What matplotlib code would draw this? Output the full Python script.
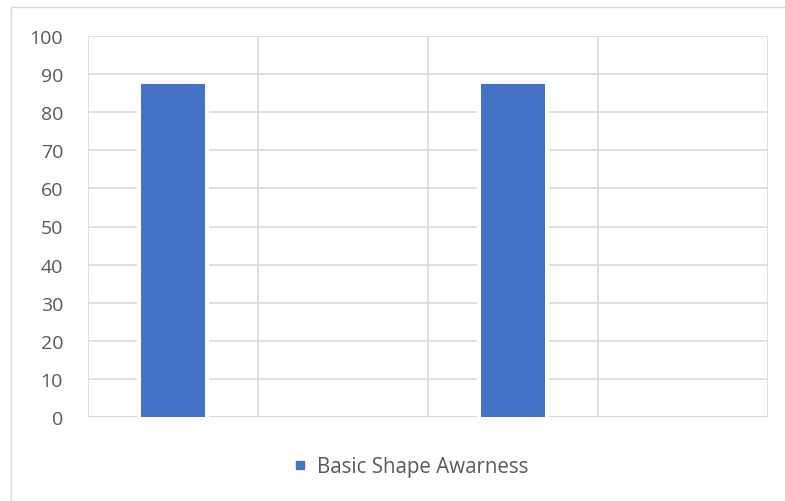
import numpy as np
import matplotlib
matplotlib.use('Agg')
from matplotlib import pyplot as plt
from matplotlib.lines import Line2D
from matplotlib.patches import Rectangle

# chart data
categories = ['', '', '', '']
scores = [87.4, np.nan, 87.4, np.nan]
series_name = 'Basic Shape Awarness'
y_ticks = list(range(0, 101, 10))

BAR_COLOR = '#4472C4'
GRID_COLOR = '#D9D9D9'
TEXT_COLOR = '#595959'

plt.rcParams['font.family'] = ['Open Sans', 'DejaVu Sans']

fig = plt.figure(figsize=(7.85, 5.02), dpi=100)
ax = fig.add_axes([88 / 785, 1 - 418 / 502, 680 / 785, 381 / 502])

# outer chart border (only top and left visible)
fig.add_artist(Rectangle((11 / 785, -0.05), 1.1, 1 - 8 / 502 + 0.05,
                         transform=fig.transFigure, fill=False,
                         edgecolor=GRID_COLOR, linewidth=1.0))

x = np.arange(len(categories))
# white backing makes the gap around the bars in the grid
ax.bar(x, scores, width=0.42, color='white', zorder=3)
ax.bar(x, scores, width=0.376, color=BAR_COLOR, zorder=4)

ax.set_xlim(-0.5, len(categories) - 0.5)
ax.set_ylim(0, 100)
ax.set_yticks(y_ticks)
ax.set_xticks(x)
ax.set_xticklabels(categories)
ax.set_xticks(np.arange(-0.5, len(categories)), minor=True)

ax.grid(axis='y', which='major', color=GRID_COLOR, linewidth=1.2, zorder=1)
ax.grid(axis='x', which='minor', color=GRID_COLOR, linewidth=1.2, zorder=1)
ax.set_axisbelow(True)
for side in ['top', 'right', 'left', 'bottom']:
    ax.spines[side].set_visible(False)
ax.axhline(0, color=GRID_COLOR, linewidth=1.2, zorder=2)

ax.tick_params(axis='both', which='both', length=0)
ax.tick_params(axis='y', labelsize=14, labelcolor=TEXT_COLOR, pad=18)

handle = Line2D([], [], linestyle='none', marker='s', markersize=6,
                color=BAR_COLOR)
fig.legend([handle], [series_name], loc='center',
           bbox_to_anchor=(409 / 785, 1 - 468 / 502), frameon=False,
           fontsize=14.8, labelcolor=TEXT_COLOR, handletextpad=0.3,
           handlelength=1.0)

fig.savefig('out.png', dpi=100, facecolor='white')
